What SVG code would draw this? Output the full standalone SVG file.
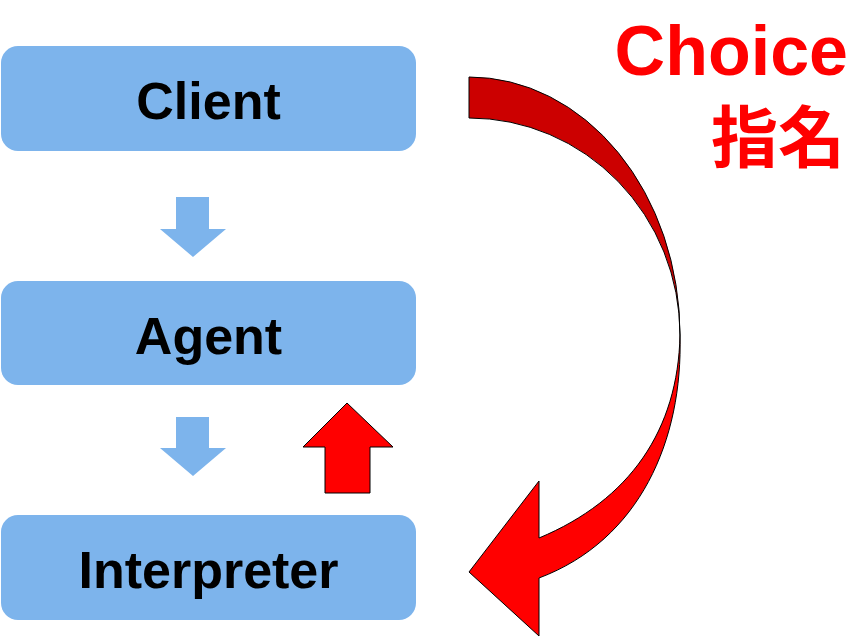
<svg xmlns="http://www.w3.org/2000/svg" width="862" height="640" viewBox="0 0 862 640">
<style>
.box{fill:#7DB4EC}
.lbl{font-family:"Liberation Sans",Arial,sans-serif;font-weight:bold;font-size:52px;fill:#000;text-anchor:middle}
.blue{fill:#7DB4EC}
.red{fill:#FF0000;stroke:#000;stroke-width:1}
.dark{fill:#CC0000;stroke:#000;stroke-width:1}
.title{font-family:"Liberation Sans","Noto Sans CJK JP",sans-serif;font-weight:bold;fill:#FF0000;text-anchor:end}
</style>
<rect width="862" height="640" fill="#fff"/>
<g id="client"><rect class="box" x="1" y="46" width="415" height="105" rx="17"/><text class="lbl" x="208.5" y="119">Client</text></g>
<g id="agent"><rect class="box" x="1" y="281" width="415" height="104" rx="17"/><text class="lbl" x="208.5" y="354">Agent</text></g>
<g id="interpreter"><rect class="box" x="1" y="515" width="415" height="105" rx="17"/><text class="lbl" x="208.5" y="588">Interpreter</text></g>
<g id="connectors">
<polygon class="blue" points="176,197 209,197 209,229 226,229 193,257 160,229 176,229"/>
<polygon class="blue" points="176,417 209,417 209,448 226,448 193,476 160,448 176,448"/>
<polygon class="red" points="347,403 393,447 370,447 370,493 325,493 325,447 303,447"/>
<path class="dark" d="M469,77 A211,258 0 0 1 680,335 A211,217 0 0 0 469,118 Z"/>
<path class="red" d="M680,335 C683,440 640,540 539,578 L539,636 L469,572 L539,481 L539,538 C630,500 678,430 680,335 Z"/>
</g>
<g id="title">
<text class="title" x="848" y="75" font-size="70">Choice</text>
<text class="title" x="845" y="162" font-size="67">指名</text>
</g>
</svg>
